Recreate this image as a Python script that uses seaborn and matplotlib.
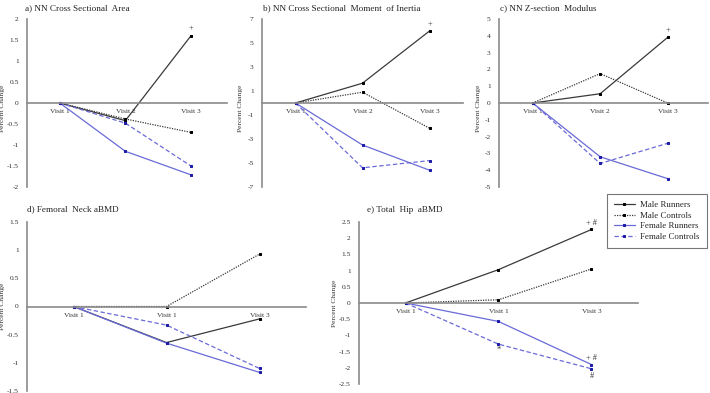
import matplotlib
matplotlib.use('Agg')
import matplotlib.pyplot as plt
import numpy as np
import pandas as pd
import seaborn as sns

sns.set_style("white")
plt.rcParams['font.family'] = ['Liberation Serif', 'DejaVu Serif']

# 数据
series_names = ['Male Runners', 'Male Controls', 'Female Runners', 'Female Controls']

a_vals = [[0, -0.42, 1.6], [0, -0.38, -0.7], [0, -1.15, -1.71], [0, -0.48, -1.5]]
b_vals = [[0, 1.65, 6.0], [0, 0.9, -2.1], [0, -3.5, -5.6], [0, -5.4, -4.8]]
c_vals = [[0, 0.55, 3.9], [0, 1.75, 0.0], [0, -3.2, -4.5], [0, -3.6, -2.4]]
d_vals = [[0, -0.64, -0.22], [0, 0.0, 0.93], [0, -0.65, -1.17], [0, -0.33, -1.1]]
e_vals = [[0, 1.03, 2.27], [0, 0.1, 1.05], [0, -0.57, -1.9], [0, -1.27, -2.03]]

labels_top = ['Visit 1', 'Visit 2', 'Visit 3']
labels_bottom = ['Visit 1', 'Visit 1', 'Visit 3']

titles = ['a) NN Cross Sectional  Area', 'b) NN Cross Sectional  Moment  of Inertia',
          'c) NN Z-section  Modulus', 'd) Femoral  Neck aBMD', 'e) Total  Hip  aBMD']

# 样式
line_colors = ['#3a3a3a', '#3a3a3a', '#6a6ad8', '#6a6ad8']
marker_colors = ['black', 'black', '#1c1ca8', '#1c1ca8']
line_styles = ['-', (0, (1, 1)), '-', (0, (3.5, 2))]

W, H = 710, 393
fig = plt.figure(figsize=(W / 100, H / 100), dpi=100)


def add_panel(x0, x1, y0, y1):
    return fig.add_axes([x0 / W, 1 - y1 / H, (x1 - x0) / W, (y1 - y0) / H])


def draw(ax, vals, xlabels, ylim, yticks, xmax=2.5):
    x = np.arange(3)
    for i, name in enumerate(series_names):
        df = pd.DataFrame({'x': x, 'y': vals[i]})
        sns.lineplot(data=df, x='x', y='y', ax=ax, color=line_colors[i],
                     linestyle=line_styles[i], linewidth=0.9, marker='s',
                     markersize=2.1, markerfacecolor=marker_colors[i],
                     markeredgecolor=marker_colors[i], label=name, legend=False)
    for s in ['top', 'right']:
        ax.spines[s].set_visible(False)
    ax.spines['bottom'].set_position(('data', 0))
    for s in ['bottom', 'left']:
        ax.spines[s].set_color('#8a8a8a')
        ax.spines[s].set_linewidth(1.2)
    ax.set_xlim(-0.5, xmax)
    ax.set_ylim(*ylim)
    ax.set_yticks(yticks)
    ax.set_yticklabels([f'{t:g}' for t in yticks])
    ax.set_xticks(x)
    ax.set_xticklabels(xlabels)
    ax.set_xticks([xmax], minor=True)
    ax.tick_params(axis='x', which='both', direction='inout', length=4, width=0.8,
                   color='#555555', pad=2.5, labelsize=5.4, labelcolor='#333333')
    ax.tick_params(axis='y', length=0, pad=6, labelsize=5.4, labelcolor='#333333')
    ax.set_xlabel('')
    ax.set_ylabel('Percent Change', fontsize=5.4, color='#333333')
    ax.grid(False)
    ax.patch.set_alpha(0)


ax_a = add_panel(27, 227, 19, 187)
draw(ax_a, a_vals, labels_top, (-2, 2), [-2, -1.5, -1, -0.5, 0, 0.5, 1, 1.5, 2], xmax=2.55)
ax_a.yaxis.set_label_coords(-0.11, 0.47)

ax_b = add_panel(262, 463, 19, 187)
draw(ax_b, b_vals, labels_top, (-7, 7), [-7, -5, -3, -1, 1, 3, 5, 7])
ax_b.yaxis.set_label_coords(-0.095, 0.47)

ax_c = add_panel(499, 708, 19, 187)
draw(ax_c, c_vals, labels_top, (-5, 5), list(range(-5, 6)), xmax=2.6)
ax_c.yaxis.set_label_coords(-0.085, 0.47)

ax_d = add_panel(27, 306, 222, 391)
draw(ax_d, d_vals, labels_bottom, (-1.5, 1.5), [-1.5, -1, -0.5, 0, 0.5, 1, 1.5])
ax_d.yaxis.set_label_coords(-0.08, 0.5)

ax_e = add_panel(359, 638, 222, 384)
draw(ax_e, e_vals, labels_bottom, (-2.5, 2.5), [-2.5, -2, -1.5, -1, -0.5, 0, 0.5, 1, 1.5, 2, 2.5])
ax_e.yaxis.set_label_coords(-0.08, 0.5)

# 标题
title_pos = [(25, 8), (263, 8), (500, 8), (27, 209), (367, 210)]
for (tx, ty), t in zip(title_pos, titles):
    fig.text(tx / W, 1 - ty / H, t, fontsize=6.6, ha='left', va='center', color='#222222')

# 显著性标记
mk = dict(fontsize=6, ha='center', va='center', color='#333333')
ax_a.text(2, 1.78, '+', **mk)
ax_b.text(2, 6.6, '+', **mk)
ax_c.text(2, 4.35, '+', **mk)
ax_e.text(2, 2.47, '+ #', **mk)
ax_e.text(1, -1.45, '*', **mk)
ax_e.text(2, -1.7, '+ #', **mk)
ax_e.text(2, -2.25, '#', **mk)

# 图例
handles, leg_labels = ax_e.get_legend_handles_labels()
leg = fig.legend(handles, leg_labels, loc='upper left',
                 bbox_to_anchor=(607 / W, 1 - 194 / H), fontsize=6.4,
                 frameon=True, fancybox=False, edgecolor='#555555',
                 handlelength=2.3, borderpad=0.8, labelspacing=0.25,
                 handletextpad=0.6, borderaxespad=0)
leg.get_frame().set_linewidth(0.8)

fig.savefig('out.png', dpi=100)
